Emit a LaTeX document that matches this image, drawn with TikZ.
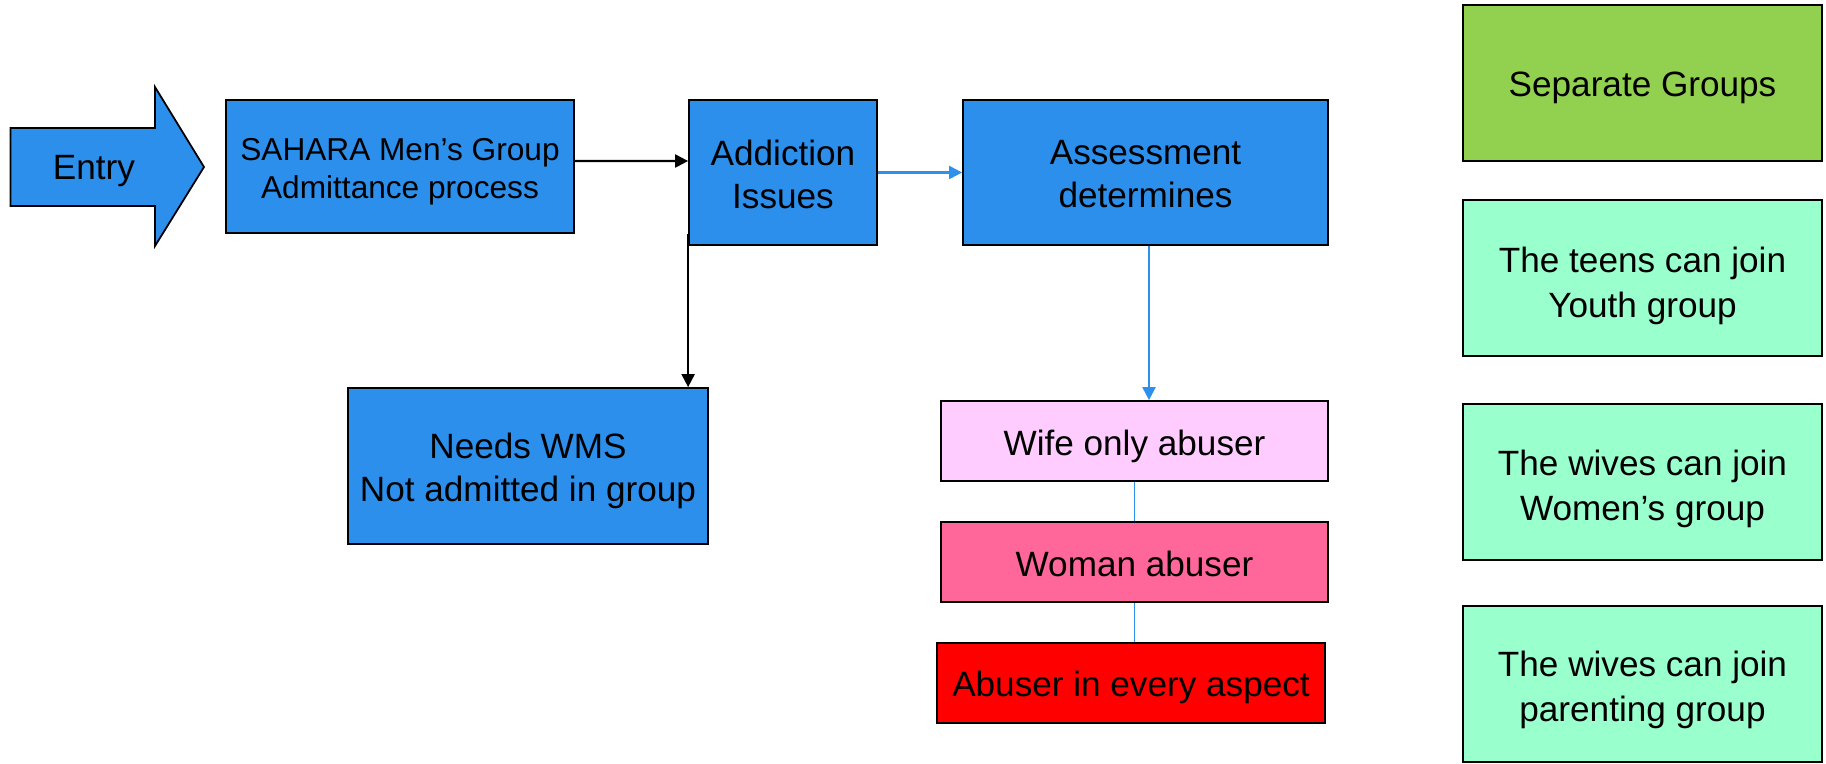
\documentclass[tikz,border=0pt]{standalone}
\usepackage{fontspec}
\setmainfont{Liberation Sans}
\usetikzlibrary{arrows.meta,calc}

\definecolor{boxblue}{RGB}{43,143,235}
\definecolor{linkblue}{RGB}{45,145,235}
\definecolor{wifepink}{RGB}{255,204,255}
\definecolor{womanpink}{RGB}{255,102,153}
\definecolor{abusered}{RGB}{255,0,0}
\definecolor{groupgreen}{RGB}{146,208,80}
\definecolor{joinmint}{RGB}{153,255,204}

% centred lines of text, set a little below the box's middle
\newcommand\boxtext[2][2.7pt]{%
  \raisebox{-#1}[\height][\depth]{\begin{tabular}{@{}c@{}}#2\end{tabular}}}

\begin{document}
\begin{tikzpicture}[
  box/.style={draw=black, line width=1pt, inner sep=0pt,
    font=\fontsize{20}{24.5}\selectfont},
  bluebox/.style={box, fill=boxblue},
  abusebox/.style={box, minimum width=7.74cm, minimum height=1.6cm},
  groupbox/.style={box, minimum width=7.18cm, minimum height=3.12cm,
    font=\fontsize{20}{25.5}\selectfont},
  blackarrow/.style={draw=black, line width=1.2pt,
    -{Triangle[length=0.26cm, width=0.26cm]}},
  bluearrow/.style={draw=linkblue, line width=1.2pt,
    -{Triangle[length=0.26cm, width=0.26cm]}},
  bluelink/.style={draw=linkblue, line width=0.8pt}
]
\useasboundingbox (0,0) rectangle (36.52,-15.26);

% entry block arrow
\fill[boxblue, draw=black, line width=1pt]
  (0.21,-2.56) -- (3.10,-2.56) -- (3.10,-1.74) -- (4.08,-3.34)
  -- (3.10,-4.92) -- (3.10,-4.12) -- (0.21,-4.12) -- cycle;
\node[font=\fontsize{20}{24}\selectfont, inner sep=0pt] (entry) at (1.88,-3.43) {Entry};

% main flow
\node[bluebox, minimum width=6.96cm, minimum height=2.66cm,
  font=\fontsize{18}{21.3}\selectfont] (sahara) at (8.0,-3.33)
  {\boxtext[3.2pt]{SAHARA Men’s Group\\Admittance process}};
\node[bluebox, minimum width=3.76cm, minimum height=2.9cm] (add) at (15.66,-3.45)
  {\boxtext[3.1pt]{Addiction\\Issues}};
\node[bluebox, minimum width=7.3cm, minimum height=2.9cm] (assess) at (22.91,-3.45)
  {\boxtext[2.9pt]{Assessment\\determines}};
\node[bluebox, minimum width=7.2cm, minimum height=3.12cm] (wms) at (10.56,-9.32)
  {\boxtext[3.2pt]{Needs WMS\\Not admitted in group}};

% abuse levels
\node[abusebox, fill=wifepink] (wife) at (22.69,-8.82) {\boxtext[3.4pt]{Wife only abuser}};
\node[abusebox, fill=womanpink] (woman) at (22.69,-11.24) {\boxtext[3.5pt]{Woman abuser}};
\node[abusebox, fill=abusered, minimum width=7.76cm] (every) at (22.62,-13.66)
  {\boxtext[2.7pt]{Abuser in every aspect}};

% group column
\node[groupbox, fill=groupgreen] (sep) at (32.85,-1.66) {\boxtext[2.7pt]{Separate Groups}};
\node[groupbox, fill=joinmint] (teens) at (32.85,-5.56)
  {\boxtext[4.5pt]{The teens can join\\Youth group}};
\node[groupbox, fill=joinmint] (women) at (32.85,-9.64)
  {\boxtext[3.8pt]{The wives can join\\Women’s group}};
\node[groupbox, fill=joinmint] (parent) at (32.85,-13.68)
  {\boxtext[3.5pt]{The wives can join\\parenting group}};

% connectors
\coordinate (assessout) at ([xshift=0.07cm]assess.south);
\draw[blackarrow] ([yshift=0.11cm]sahara.east) -- ([yshift=0.23cm]add.west);
\draw[bluearrow] (add.east) -- (assess.west);
\draw[blackarrow] ([yshift=0.24cm]add.south west) -- (wms.north -| add.west);
\draw[bluearrow] (assessout) -- (wife.north -| assessout);
\draw[bluelink] (wife.south) -- (woman.north);
\draw[bluelink] (woman.south) -- (every.north -| woman.south);
\end{tikzpicture}
\end{document}
